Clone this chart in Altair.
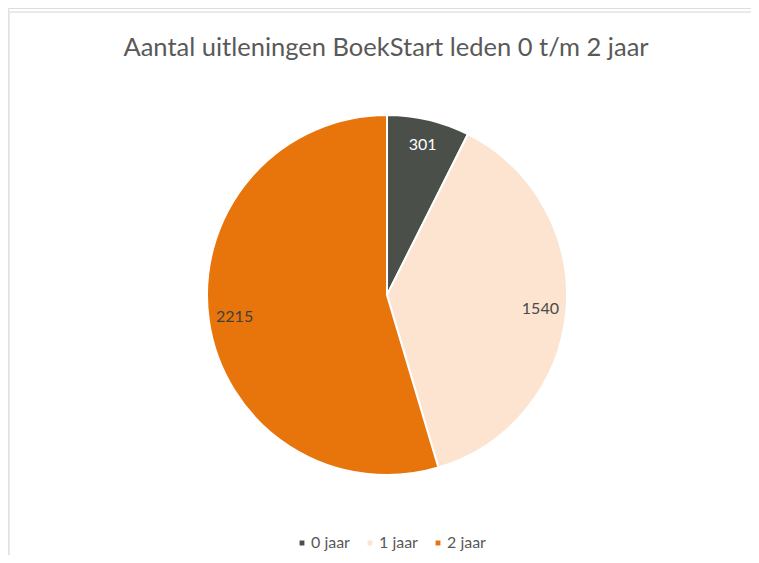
import altair as alt
import pandas as pd

categories = ["0 jaar", "1 jaar", "2 jaar"]
values = [301, 1540, 2215]
colors = ["#4b4f4a", "#fce4d0", "#e8740c"]
label_colors = ["#ffffff", "#4a4a4a", "#404040"]
title_text = "Aantal uitleningen BoekStart leden 0 t/m 2 jaar"

df = pd.DataFrame({"cat": categories, "val": values, "ord": [0, 1, 2], "lc": label_colors})

W, H = 743, 547
CX, CY = 379, 287
FONT = "Lato"

base = alt.Chart(df).encode(
    theta=alt.Theta("val:Q", stack=True),
    order=alt.Order("ord:Q"),
)

pie = base.mark_arc(outerRadius=180, stroke="white", strokeWidth=2).encode(
    x=alt.value(CX), y=alt.value(CY),
    color=alt.Color("cat:N", scale=alt.Scale(domain=categories, range=colors),
                    legend=alt.Legend(title=None, orient="none", legendX=286, legendY=527,
                                      direction="horizontal", symbolType="square", symbolSize=40,
                                      labelFontSize=16, labelFont=FONT, labelColor="#595959",
                                      columnPadding=12, labelOffset=1)),
)

labels = base.mark_text(radius=154, fontSize=16, font=FONT).encode(
    x=alt.value(CX), y=alt.value(CY),
    text=alt.Text("val:Q"),
    color=alt.Color("lc:N", scale=None),
)

frame = alt.Chart(pd.DataFrame({"a": [0]})).mark_rect(fill=None, stroke="#e3e3e3", strokeWidth=1.5).encode(
    x=alt.value(1), x2=alt.value(760), y=alt.value(4), y2=alt.value(570))

title = alt.Chart(pd.DataFrame({"t": [title_text]})).mark_text(
    fontSize=25.5, font=FONT, color="#595959", baseline="alphabetic", align="center").encode(
    x=alt.value(378), y=alt.value(48), text="t:N")

chart = alt.layer(frame, pie, labels, title).properties(
    width=W, height=H, autosize="none", padding=0
).configure_view(stroke=None).configure(background="white")

chart.save("out.html", embed_options={"renderer": "svg", "actions": False})
